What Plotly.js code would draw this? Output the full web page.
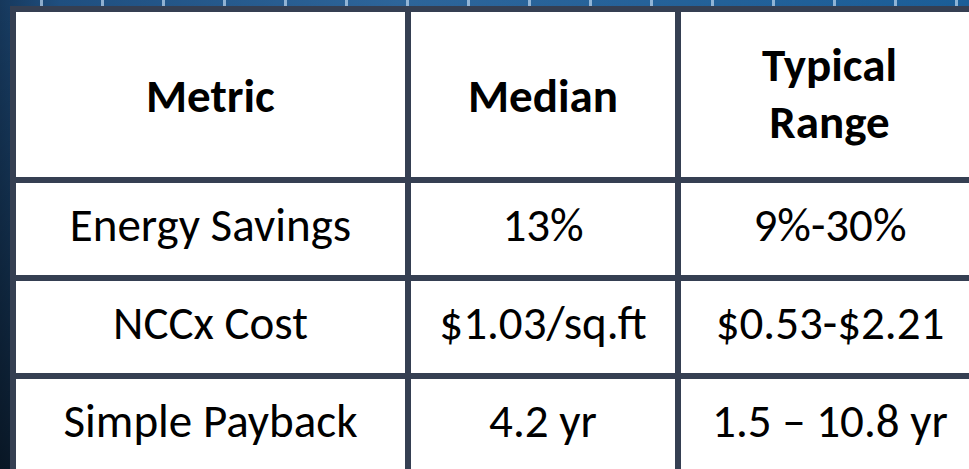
<!DOCTYPE html>
<html>
<head>
<meta charset="utf-8">
<script src="https://cdn.plot.ly/plotly-3.0.1.min.js"></script>
<style>
html, body { margin:0; padding:0; width:969px; height:469px; overflow:hidden; position:relative; }
body {
  background:
    linear-gradient(180deg, rgba(0,0,0,0) 0%, rgba(0,0,0,0.6) 100%),
    linear-gradient(90deg, #16385c 0px, #1f4f80 60px, #2d659a 400px, #1b5e98 969px);
}
#stripes {
  position:absolute; left:0; top:0; width:969px; height:10px;
  background: repeating-linear-gradient(90deg, rgba(0,0,0,0) 0px, rgba(0,0,0,0) 40px, rgba(190,215,240,0.7) 40px, rgba(190,215,240,0.7) 43px, rgba(0,0,0,0) 43px, rgba(0,0,0,0) 61px);
}
#chart { position:absolute; left:0; top:0; width:985px; height:600px; }
</style>
</head>
<body>
<div id="stripes"></div>
<div id="chart"></div>
<script>
// ---- data ----
var headers = ["Metric", "Median", "Typical Range"];
var metrics = ["Energy Savings", "NCCx Cost", "Simple Payback"];
var medians = ["13%", "$1.03/sq.ft", "4.2 yr"];
var ranges  = ["9%-30%", "$0.53-$2.21", "1.5 \u2013 10.8 yr"];

// ---- styling / geometry (pixels) ----
var W = 985, H = 600;
var FONT = "Carlito, Lato, 'Liberation Sans', sans-serif";
var FS = 47;
var LINE = "#353f52";
var colW = [395, 270, 304];
var left = 13, top0 = 9, headH = 171, rowH = 98;
var bodyShift = 17.4;
var headTop12 = 58.6, headTopTyp = 27.5, headTopRng = 84.5;
var NONE = "rgba(0,0,0,0)";

function xDom(c0, c1) {
  var a = left, b;
  for (var i = 0; i < c0; i++) a += colW[i];
  b = a;
  for (var j = c0; j <= c1; j++) b += colW[j];
  return [a / W, b / W];
}
function yDom(topPx) { return [0, 1 - topPx / H]; }
function blanks(arr) { return arr.map(function () { return ""; }); }
function bold(s) { return "<b>" + s + "</b>"; }

var fontBody = { family: FONT, size: FS, color: "black" };

// grid (borders + white fill)
var grid = {
  type: "table",
  domain: { x: xDom(0, 2), y: yDom(top0) },
  columnwidth: colW,
  header: { values: blanks(headers), height: headH,
            fill: { color: "white" }, line: { color: LINE, width: 6 }, font: fontBody },
  cells: { values: [blanks(metrics), blanks(medians), blanks(ranges)], height: rowH,
           fill: { color: "white" }, line: { color: LINE, width: 6 }, font: fontBody }
};

// body text, vertically centred in its rows
var bodyText = {
  type: "table",
  domain: { x: xDom(0, 2), y: yDom(top0 + bodyShift) },
  columnwidth: colW,
  header: { values: blanks(headers), height: headH,
            fill: { color: NONE }, line: { color: NONE, width: 0 }, font: fontBody },
  cells: { values: [metrics, medians, ranges], height: rowH, align: "center",
           fill: { color: NONE }, line: { color: NONE, width: 0 }, font: fontBody }
};

function headerOnly(c0, c1, vals, topPx) {
  return {
    type: "table",
    domain: { x: xDom(c0, c1), y: yDom(topPx) },
    columnwidth: colW.slice(c0, c1 + 1),
    header: { values: vals.map(bold), height: 80, align: "center",
              fill: { color: NONE }, line: { color: NONE, width: 0 }, font: fontBody },
    cells: { values: [] }
  };
}

var rangeWords = headers[2].split(" ");
var traces = [
  grid,
  bodyText,
  headerOnly(0, 1, headers.slice(0, 2), headTop12),
  headerOnly(2, 2, [rangeWords[0]], headTopTyp),
  headerOnly(2, 2, [rangeWords[1]], headTopRng)
];

var layout = {
  width: W, height: H,
  margin: { l: 0, r: 0, t: 0, b: 0 },
  paper_bgcolor: NONE,
  plot_bgcolor: NONE,
  showlegend: false
};

Plotly.newPlot("chart", traces, layout, { staticPlot: true, displayModeBar: false });
</script>
</body>
</html>
